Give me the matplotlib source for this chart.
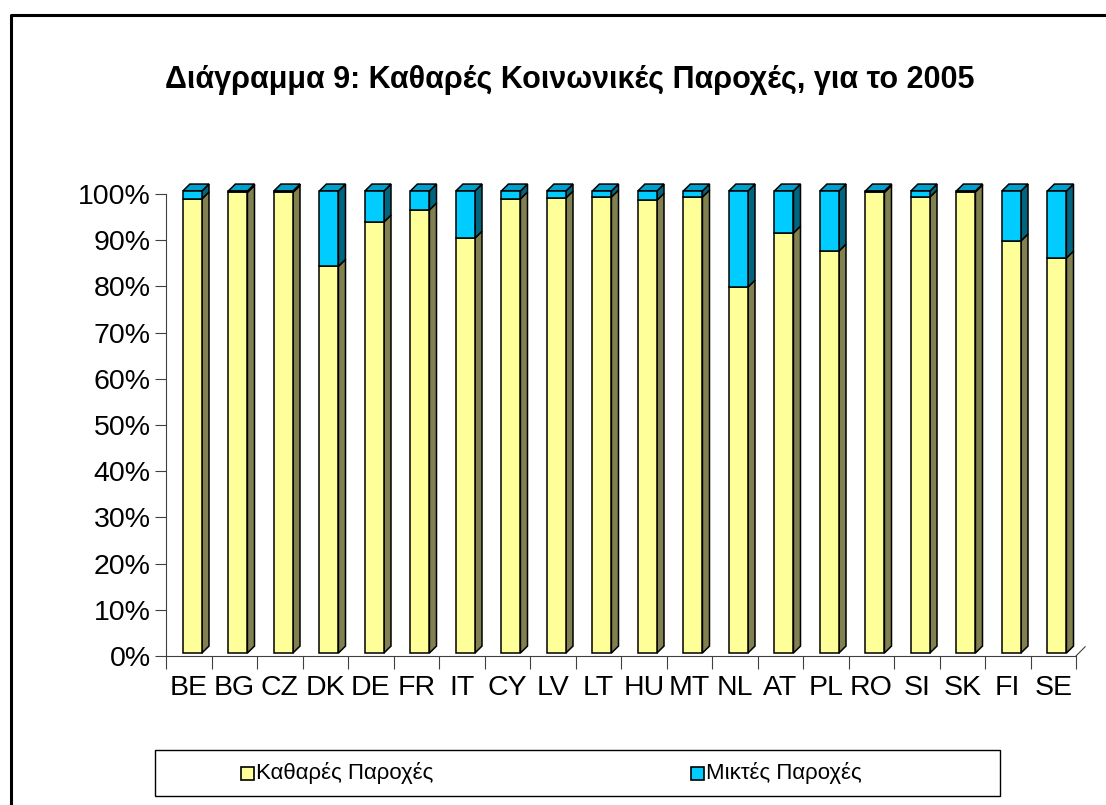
import numpy as np
import matplotlib.pyplot as plt
from matplotlib.patches import Polygon, Rectangle
from matplotlib.lines import Line2D

# Datos del grafico (porcentajes)
paises = ["BE", "BG", "CZ", "DK", "DE", "FR", "IT", "CY", "LV", "LT",
          "HU", "MT", "NL", "AT", "PL", "RO", "SI", "SK", "FI", "SE"]
kathares = [98.3, 99.7, 99.7, 83.7, 93.3, 95.9, 89.8, 98.3, 98.5, 98.7,
            98.0, 98.7, 79.2, 90.9, 87.0, 99.7, 98.7, 99.8, 89.2, 85.5]
miktes = [100 - v for v in kathares]
series = ["Καθαρές Παροχές", "Μικτές Παροχές"]
titulo = "Διάγραμμα 9: Καθαρές Κοινωνικές Παροχές, για το 2005"
yticks = np.arange(0, 101, 10)

plt.rcParams['font.family'] = ['Liberation Sans', 'DejaVu Sans']

W, H = 1106, 805
fig = plt.figure(figsize=(W / 100, H / 100), dpi=100)

# posicion de los ejes en pixeles
x0, x1 = 166, 1076
y0, y1 = 656, 194
ax = fig.add_axes([x0 / W, 1 - y0 / H, (x1 - x0) / W, (y0 - y1) / H])

n = len(paises)
ax.set_xlim(0, n)
ax.set_ylim(0, 100)

# colores: frente, lado, arriba
col_k = ("#FFFF99", "#808050", "#CCCC7A")
col_m = ("#00CCFF", "#006680", "#00A0CC")

ancho = 0.42
sx, sy = 0.08, 0.65      # desplazamiento de la cara frontal
dx, dy = 0.155, 1.5      # profundidad 3D
lw = 1.1

def caja(xl, b, t, cols, tapa):
    xr = xl + ancho
    # cara lateral
    ax.add_patch(Polygon([(xr, b), (xr + dx, b + dy), (xr + dx, t + dy), (xr, t)],
                         closed=True, fc=cols[1], ec="black", lw=lw, clip_on=False, zorder=3))
    if tapa:
        ax.add_patch(Polygon([(xl, t), (xl + dx, t + dy), (xr + dx, t + dy), (xr, t)],
                             closed=True, fc=cols[2], ec="black", lw=lw, clip_on=False, zorder=3))
    ax.add_patch(Rectangle((xl, b), ancho, t - b, fc=cols[0], ec="black", lw=lw,
                           clip_on=False, zorder=4))

for i in range(n):
    xl = i + 0.5 - ancho / 2 + sx
    b = sy
    caja(xl, b, b + kathares[i], col_k, False)
    caja(xl, b + kathares[i], b + kathares[i] + miktes[i], col_m, True)

# ejes
for s in ["top", "right"]:
    ax.spines[s].set_visible(False)
ax.spines["left"].set_color("#404040")
ax.spines["bottom"].set_color("#404040")
ax.set_yticks(yticks)
ax.set_yticklabels([f"{v}%" for v in yticks])
ax.set_xticks(np.arange(n + 1))
ax.set_xticklabels([])
ax.set_xticks(np.arange(n) + 0.5, minor=True)
ax.set_xticklabels(paises, minor=True)
ax.tick_params(axis="x", which="minor", length=0, pad=14, labelsize=20.5)
ax.tick_params(axis="x", which="major", length=9, color="#404040")
ax.tick_params(axis="y", length=8, pad=3, labelsize=20.5, color="#404040")

# linea diagonal del piso
ax.add_line(Line2D([n, n + 0.2], [0, 2.0], color="#404040", lw=0.8, clip_on=False))

# titulo
fig.text(570 / W, 1 - 80 / H, titulo, ha="center", va="center",
         fontsize=22, fontweight="bold")

# leyenda manual
lx0, lx1, ly0, ly1 = 155, 1000, 750, 796
fig.patches.append(Rectangle((lx0 / W, 1 - ly1 / H), (lx1 - lx0) / W, (ly1 - ly0) / H,
                             transform=fig.transFigure, fc="white", ec="black", lw=1.0))
for k, (nom, c, mx) in enumerate(zip(series, [col_k[0], col_m[0]], [247, 697])):
    s = 13
    fig.patches.append(Rectangle(((mx - s / 2) / W, 1 - (773 + s / 2) / H), s / W, s / H,
                                 transform=fig.transFigure, fc=c, ec="black", lw=1.2))
    fig.text((mx + s / 2 + 2) / W, 1 - 773 / H, nom, ha="left", va="center", fontsize=16)

# borde exterior
fig.add_artist(Line2D([11 / W, 11 / W, 1], [0, 1 - 15 / H, 1 - 15 / H],
                      transform=fig.transFigure, color="black", lw=2.2))

plt.savefig("out.png", dpi=100)
